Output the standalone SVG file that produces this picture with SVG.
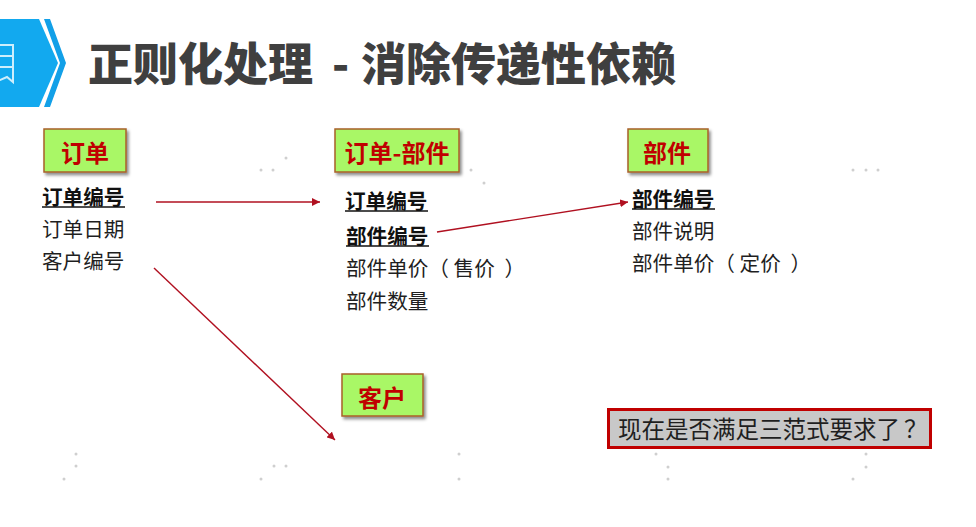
<svg xmlns="http://www.w3.org/2000/svg" width="976" height="527" viewBox="0 0 976 527">
<defs>
<marker id="ah" markerUnits="userSpaceOnUse" markerWidth="9" markerHeight="8" refX="8" refY="4" orient="auto"><path d="M0,0 L8,4 L0,8 Z" fill="#b01020"/></marker>
<filter id="sh" x="-10%" y="-15%" width="125%" height="140%"><feDropShadow dx="2" dy="2.5" stdDeviation="1.5" flood-color="#000" flood-opacity="0.45"/></filter>
</defs>
<style>
text{font-family:"Noto Sans CJK SC",sans-serif;}
.box{fill:#a9f766;stroke:#a8602a;stroke-width:1.5;filter:url(#sh);}
.hd{font-size:24px;font-weight:700;fill:#c00000;text-anchor:middle;}
.f{font-size:20.6px;fill:#1f1f1f;}
.k{font-size:20.6px;font-weight:700;fill:#111;}
.u{stroke:#111;stroke-width:1.5;}
.c{fill:none;stroke:#b01020;stroke-width:1.4;marker-end:url(#ah);}
.d{fill:#cfcfcf;}
.t{font-size:45px;font-weight:900;fill:#3f3f3f;}
</style>
<rect width="976" height="527" fill="#fff"/>
<g id="dots">
<circle class="d" cx="261" cy="170" r="1.5"/><circle class="d" cx="273" cy="170" r="1.5"/><circle class="d" cx="286" cy="158" r="1.5"/>
<circle class="d" cx="471" cy="170" r="1.5"/><circle class="d" cx="484" cy="183" r="1.5"/>
<circle class="d" cx="853" cy="170" r="1.5"/><circle class="d" cx="866" cy="170" r="1.5"/><circle class="d" cx="878" cy="170" r="1.5"/>
<circle class="d" cx="76" cy="454" r="1.5"/><circle class="d" cx="76" cy="466" r="1.5"/><circle class="d" cx="64" cy="479" r="1.5"/>
<circle class="d" cx="274" cy="466" r="1.5"/><circle class="d" cx="286" cy="466" r="1.5"/><circle class="d" cx="261" cy="479" r="1.5"/>
<circle class="d" cx="459" cy="454" r="1.5"/><circle class="d" cx="459" cy="479" r="1.5"/>
<circle class="d" cx="656" cy="454" r="1.5"/><circle class="d" cx="668" cy="467" r="1.5"/><circle class="d" cx="668" cy="479" r="1.5"/>
<circle class="d" cx="866" cy="454" r="1.5"/><circle class="d" cx="866" cy="467" r="1.5"/><circle class="d" cx="853" cy="479" r="1.5"/>
</g>
<g id="banner">
<path d="M0,19 H39 L58,63 L39,107 H0 Z" fill="#12a9ef"/>
<path d="M44,19 H50 L66,63 L50,107 H44 L60,63 Z" fill="#12a0e8"/>
<path d="M-4,45 H13 V82 L7,77 L0,80 H-4 M-2,56 H13 M-2,67 H13" fill="none" stroke="#cdeefc" stroke-width="2"/>
</g>
<text id="title" class="t" x="88" y="81">正则化处理<tspan x="332">-</tspan><tspan x="361">消除传递性依赖</tspan></text>
<g id="connectors">
<path class="c" d="M156,202 H320"/>
<path class="c" d="M437,232 L628,202"/>
<path class="c" d="M154,268 L335,440"/>
</g>
<g id="node-order">
<rect class="box" x="44" y="129" width="82" height="43"/>
<text class="hd" x="85" y="162">订单</text>
<text class="k" x="42" y="205">订单编号</text><line class="u" x1="42" y1="207" x2="125" y2="207"/>
<text class="f" x="42" y="237">订单日期</text>
<text class="f" x="42" y="269">客户编号</text>
</g>
<g id="node-order-part">
<rect class="box" x="335" y="129" width="124" height="43"/>
<text class="hd" x="397" y="162">订单-部件</text>
<text class="k" x="345" y="209">订单编号</text><line class="u" x1="345" y1="211" x2="428" y2="211"/>
<text class="k" x="346" y="244">部件编号</text><line class="u" x1="346" y1="246" x2="429" y2="246"/>
<text class="f" x="346" y="276">部件单价（ 售价 <tspan dx="5">）</tspan></text>
<text class="f" x="346" y="309">部件数量</text>
</g>
<g id="node-part">
<rect class="box" x="628" y="129" width="80" height="43"/>
<text class="hd" x="667" y="162">部件</text>
<text class="k" x="632" y="207">部件编号</text><line class="u" x1="632" y1="209" x2="715" y2="209"/>
<text class="f" x="632" y="239">部件说明</text>
<text class="f" x="632" y="271">部件单价（ 定价 <tspan dx="5">）</tspan></text>
</g>
<g id="node-customer">
<rect class="box" x="342" y="374" width="81" height="42"/>
<text class="hd" x="382" y="407">客户</text>
</g>
<g id="node-question">
<rect x="608.500" y="409.500" width="322" height="38" fill="#c8c8c8" stroke="#c00000" stroke-width="3"/>
<text x="618" y="438" font-size="23.500" fill="#1f1f1f">现在是否满足三范式要求了<tspan dx="4">？</tspan></text>
</g>
</svg>
